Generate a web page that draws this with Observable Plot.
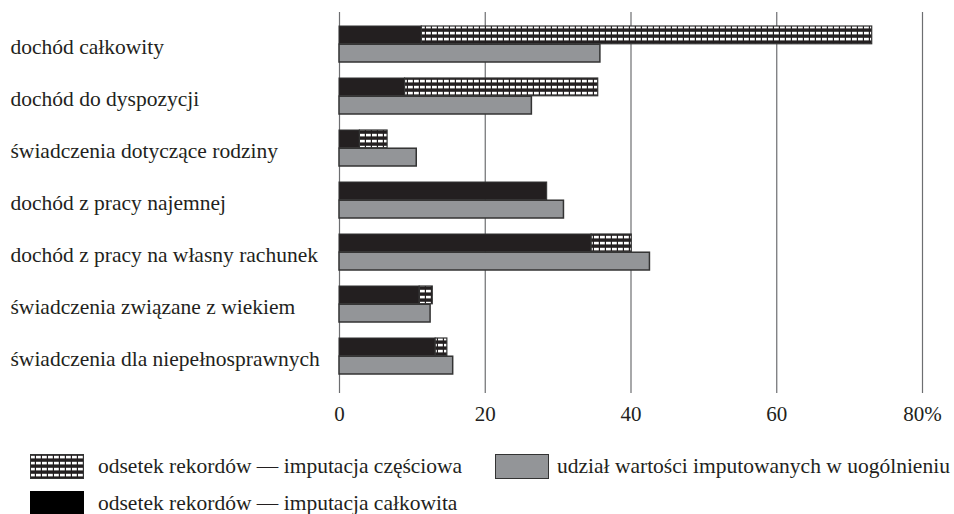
<!DOCTYPE html>
<html><head><meta charset="utf-8">
<script src="https://cdn.jsdelivr.net/npm/d3@7"></script>
<script src="https://cdn.jsdelivr.net/npm/@observablehq/plot@0.6"></script>
<style>
body{margin:0;background:#fff;}
#wrap{position:relative;width:954px;height:514px;overflow:hidden;font-family:"Liberation Serif",serif;color:#231f20;background:#fff;}
.li{position:absolute;display:flex;align-items:center;font-size:21.5px;white-space:nowrap;height:26px;}
.sw{width:54px;height:25px;margin-right:8px;box-sizing:border-box;}
</style></head><body><div id="wrap"><div id="chart"></div><div id="legend"></div></div>
<script>
const categories = [
  "dochód całkowity",
  "dochód do dyspozycji",
  "świadczenia dotyczące rodziny",
  "dochód z pracy najemnej",
  "dochód z pracy na własny rachunek",
  "świadczenia związane z wiekiem",
  "świadczenia dla niepełnosprawnych"
];
const fullImputation    = [11.3, 9.0, 2.8, 28.5, 34.6, 11.0, 13.2];
const partialImputation = [61.8, 26.5, 3.8, 0, 5.5, 1.8, 1.6];
const imputedShare      = [35.8, 26.4, 10.6, 30.8, 42.6, 12.5, 15.6];
const xTicks = [0, 20, 40, 60, 80];
const xTickLabels = ["0", "20", "40", "60", "80%"];
const legendLabels = [
  "odsetek rekordów — imputacja częściowa",
  "udział wartości imputowanych w uogólnieniu",
  "odsetek rekordów — imputacja całkowita"
];

const rows = categories.map((c, i) => ({
  cat: c, full: fullImputation[i], partial: partialImputation[i], share: imputedShare[i]
}));

const BLACK = "#231f20", GRAY = "#939598", EDGE = "#333";
const bw = 52.83 * 0.69;

const chart = Plot.plot({
  width: 954, height: 440,
  marginLeft: 339, marginRight: 32, marginTop: 12, marginBottom: 47,
  style: {fontFamily: "Liberation Serif", fontSize: "21px", color: BLACK, background: "white"},
  x: {domain: [0, 80], ticks: xTicks, tickFormat: d => xTickLabels[xTicks.indexOf(d)], tickSize: 0, tickPadding: 13, label: null},
  y: {domain: categories, range: [14.6, 384.4], paddingInner: 0.31, paddingOuter: 0.155, axis: null},
  marks: [
    Plot.ruleX(xTicks, {stroke: "#6d6e71", strokeWidth: 1.2}),
    Plot.barX(rows, {y: "cat", x1: 0, x2: "full", fill: BLACK, stroke: EDGE, strokeWidth: 1, insetBottom: bw / 2}),
    Plot.barX(rows.filter(d => d.partial > 0), {y: "cat", x1: "full", x2: d => d.full + d.partial, fill: "url(#hatch)", stroke: EDGE, strokeWidth: 1.2, insetBottom: bw / 2}),
    Plot.barX(rows, {y: "cat", x1: 0, x2: "share", fill: GRAY, stroke: EDGE, strokeWidth: 1.5, insetTop: bw / 2}),
    Plot.text(rows, {y: "cat", x: 0, text: "cat", textAnchor: "start", dx: -329, dy: 3, fontSize: 21.5, fill: BLACK}),
    Plot.axisX({ticks: xTicks, tickFormat: d => xTickLabels[xTicks.indexOf(d)], tickSize: 0, tickPadding: 13, fontSize: 21, label: null})
  ]
});

function addHatch(svgSel, id) {
  const p = svgSel.insert("defs", ":first-child").append("pattern")
    .attr("id", id).attr("patternUnits", "userSpaceOnUse")
    .attr("width", 6).attr("height", 6);
  p.append("rect").attr("width", 6).attr("height", 6).attr("fill", BLACK);
  p.append("rect").attr("x", 0).attr("y", 1.8).attr("width", 4.8).attr("height", 2.6).attr("fill", "#fff");
}
addHatch(d3.select(chart), "hatch");
document.getElementById("chart").appendChild(chart);

// legend
const legend = d3.select("#legend");
const items = [
  {label: legendLabels[0], kind: "hatch", left: 30, top: 453},
  {label: legendLabels[1], kind: "gray", left: 495, top: 453},
  {label: legendLabels[2], kind: "black", left: 30, top: 490}
];
items.forEach((it) => {
  const div = legend.append("div").attr("class", "li").style("left", it.left + "px").style("top", it.top + "px");
  if (it.kind === "hatch") {
    const s = div.append("svg").attr("width", 54).attr("height", 25).style("margin-right", "14px");
    addHatch(s, "hatchLeg");
    s.append("rect").attr("x", 0.5).attr("y", 0.5).attr("width", 53).attr("height", 24).attr("fill", "url(#hatchLeg)").attr("stroke", EDGE);
  } else if (it.kind === "gray") {
    div.append("div").attr("class", "sw").style("background", GRAY).style("border", "1.5px solid " + EDGE);
  } else {
    div.append("div").attr("class", "sw").style("background", "#000").style("margin-right", "14px");
  }
  div.append("span").text(it.label);
});
</script>
</body></html>
